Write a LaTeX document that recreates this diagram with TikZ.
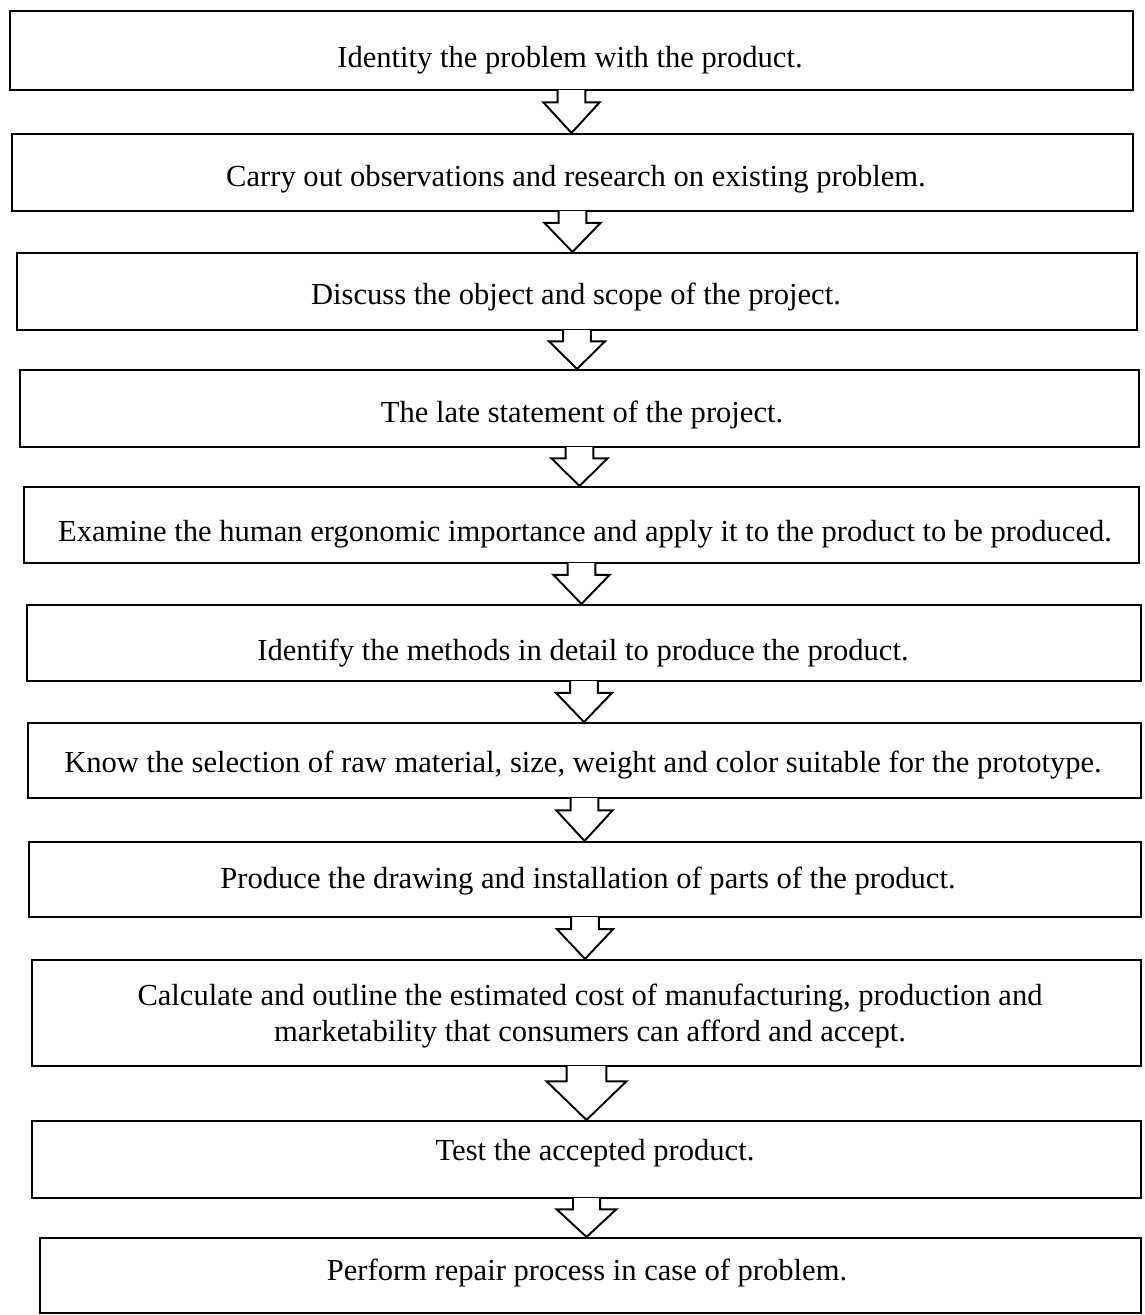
\documentclass[tikz,border=0pt]{standalone}
\usepackage{fontspec}
\setmainfont{Liberation Serif}
\usetikzlibrary{fit,calc}
\tikzset{
  stepbox/.style={draw, line width=1.2pt, inner sep=0pt},
  steptext/.style={inner sep=0pt, align=center,
    font=\fontsize{17.4}{21}\selectfont},
  flow/.style={draw, line width=1.1pt, fill=white, line join=miter}
}
% #1 from node, #2 to node, #3 half stem width, #4 half head width
\newcommand\flowarrow[4]{%
  \path[flow] let \p1=(#1.south), \p2=(#2.north), \n1={\y1-0.27*(\y1-\y2)} in
    (\x1-#3,\y1+0.6pt) -- (\x1-#3,\n1) -- (\x1-#4,\n1) -- (\x1,\y2)
    -- (\x1+#4,\n1) -- (\x1+#3,\n1) -- (\x1+#3,\y1+0.6pt);}
\begin{document}
\begin{tikzpicture}[x=0.02cm,y=-0.02cm]
\useasboundingbox (0,0) rectangle (1144,1315);
\node[stepbox, fit={(10,11) (1133,90)}] (b1) {};
\node[stepbox, fit={(12,134) (1133,211)}] (b2) {};
\node[stepbox, fit={(17,253) (1137,330)}] (b3) {};
\node[stepbox, fit={(20,370) (1139,447)}] (b4) {};
\node[stepbox, fit={(24,487) (1139,563)}] (b5) {};
\node[stepbox, fit={(27,605) (1141,681)}] (b6) {};
\node[stepbox, fit={(28,723) (1141,798)}] (b7) {};
\node[stepbox, fit={(29,842) (1141,917)}] (b8) {};
\node[stepbox, fit={(32,960) (1141,1066)}] (b9) {};
\node[stepbox, fit={(32,1121) (1141,1198)}] (b10) {};
\node[stepbox, fit={(40,1238) (1141,1313)}] (b11) {};
\node[steptext] (t1) at (570,60) {Identity the problem with the product.};
\node[steptext] (t2) at (576,179) {Carry out observations and research on existing problem.};
\node[steptext] (t3) at (576,297) {Discuss the object and scope of the project.};
\node[steptext] (t4) at (582,415) {The late statement of the project.};
\node[steptext] (t5) at (585,534) {Examine the human ergonomic importance and apply it to the product to be produced.};
\node[steptext] (t6) at (583,653) {Identify the methods in detail to produce the product.};
\node[steptext] (t7) at (583,765) {Know the selection of raw material, size, weight and color suitable for the prototype.};
\node[steptext] (t8) at (588,881) {Produce the drawing and installation of parts of the product.};
\node[steptext] (t9) at (590,1016) {Calculate and outline the estimated cost of manufacturing, production and\\marketability that consumers can afford and accept.};
\node[steptext] (t10) at (595,1153) {Test the accepted product.};
\node[steptext] (t11) at (587,1273) {Perform repair process in case of problem.};
\flowarrow{b1}{b2}{7.9pt}{16pt}
\flowarrow{b2}{b3}{7.9pt}{16pt}
\flowarrow{b3}{b4}{7.9pt}{16pt}
\flowarrow{b4}{b5}{7.9pt}{16pt}
\flowarrow{b5}{b6}{7.9pt}{16pt}
\flowarrow{b6}{b7}{7.9pt}{16pt}
\flowarrow{b7}{b8}{7.9pt}{16pt}
\flowarrow{b8}{b9}{7.9pt}{16pt}
\flowarrow{b9}{b10}{11.3pt}{22.7pt}
\flowarrow{b10}{b11}{7.7pt}{17pt}
\end{tikzpicture}
\end{document}
